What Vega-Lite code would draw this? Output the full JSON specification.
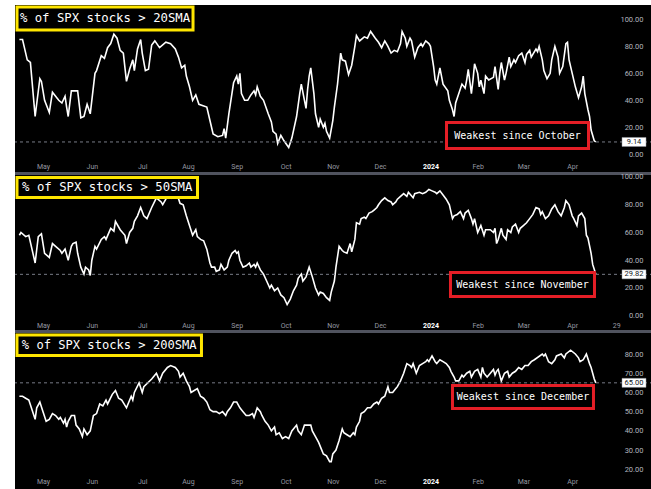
{
  "$schema": "https://vega.github.io/schema/vega-lite/v6.json",
  "background": "white",
  "padding": {"left": 13, "top": 5, "right": 0, "bottom": 0},
  "spacing": 0,
  "bounds": "flush",
  "config": {
    "view": {"fill": "black", "stroke": null},
    "axis": {"domain": false, "ticks": false, "grid": false, "labelFont": "Roboto", "labelColor": "#b2b5be", "labelOverlap": false, "labelFlush": false, "labelBound": false, "title": null}
  },
  "datasets": {
    "s20": [
      {"date":"2023-04-16","pct":85},{"date":"2023-04-18","pct":85},{"date":"2023-04-21","pct":70},{"date":"2023-04-23","pct":68},{"date":"2023-04-26","pct":28},{"date":"2023-04-29","pct":56},{"date":"2023-04-30","pct":54},
      {"date":"2023-05-02","pct":40},{"date":"2023-05-05","pct":31},{"date":"2023-05-07","pct":46},{"date":"2023-05-09","pct":43},{"date":"2023-05-11","pct":40},{"date":"2023-05-13","pct":38},{"date":"2023-05-15","pct":43},{"date":"2023-05-16","pct":35},{"date":"2023-05-17","pct":28},{"date":"2023-05-19","pct":47},{"date":"2023-05-23","pct":47},{"date":"2023-05-25","pct":27},{"date":"2023-05-27","pct":28},{"date":"2023-05-29","pct":37},{"date":"2023-05-31","pct":30},
      {"date":"2023-06-03","pct":60},{"date":"2023-06-04","pct":62},{"date":"2023-06-07","pct":73},{"date":"2023-06-09","pct":71},{"date":"2023-06-11","pct":79},{"date":"2023-06-13","pct":82},{"date":"2023-06-15","pct":89},{"date":"2023-06-17","pct":86},{"date":"2023-06-19","pct":77},{"date":"2023-06-21","pct":75},{"date":"2023-06-23","pct":54},{"date":"2023-06-25","pct":63},{"date":"2023-06-27","pct":70},{"date":"2023-06-28","pct":62},{"date":"2023-06-30","pct":78},
      {"date":"2023-07-02","pct":85},{"date":"2023-07-03","pct":75},{"date":"2023-07-05","pct":62},{"date":"2023-07-07","pct":63},{"date":"2023-07-09","pct":81},{"date":"2023-07-11","pct":84},{"date":"2023-07-14","pct":79},{"date":"2023-07-18","pct":83},{"date":"2023-07-21","pct":82},{"date":"2023-07-24","pct":78},{"date":"2023-07-26","pct":72},{"date":"2023-07-28","pct":64},{"date":"2023-07-30","pct":66},{"date":"2023-07-31","pct":58},
      {"date":"2023-08-02","pct":50},{"date":"2023-08-04","pct":40},{"date":"2023-08-06","pct":44},{"date":"2023-08-08","pct":37},{"date":"2023-08-13","pct":35},{"date":"2023-08-15","pct":25},{"date":"2023-08-17","pct":15},{"date":"2023-08-20","pct":13},{"date":"2023-08-23","pct":14},{"date":"2023-08-24","pct":19},{"date":"2023-08-25","pct":12},{"date":"2023-08-27","pct":30},{"date":"2023-08-30","pct":53},
      {"date":"2023-09-01","pct":58},{"date":"2023-09-02","pct":52},{"date":"2023-09-03","pct":60},{"date":"2023-09-04","pct":45},{"date":"2023-09-06","pct":40},{"date":"2023-09-08","pct":40},{"date":"2023-09-10","pct":44},{"date":"2023-09-12","pct":47},{"date":"2023-09-13","pct":44},{"date":"2023-09-14","pct":50},{"date":"2023-09-16","pct":43},{"date":"2023-09-18","pct":40},{"date":"2023-09-21","pct":30},{"date":"2023-09-23","pct":24},{"date":"2023-09-24","pct":17},{"date":"2023-09-26","pct":15},{"date":"2023-09-27","pct":8},{"date":"2023-09-29","pct":14},
      {"date":"2023-10-01","pct":10},{"date":"2023-10-04","pct":5},{"date":"2023-10-06","pct":12},{"date":"2023-10-09","pct":28},{"date":"2023-10-11","pct":45},{"date":"2023-10-12","pct":52},{"date":"2023-10-14","pct":40},{"date":"2023-10-15","pct":34},{"date":"2023-10-16","pct":48},{"date":"2023-10-17","pct":58},{"date":"2023-10-18","pct":64},{"date":"2023-10-20","pct":45},{"date":"2023-10-21","pct":30},{"date":"2023-10-23","pct":20},{"date":"2023-10-24","pct":26},{"date":"2023-10-26","pct":20},{"date":"2023-10-27","pct":23},{"date":"2023-10-28","pct":17},{"date":"2023-10-30","pct":12},
      {"date":"2023-11-01","pct":25},{"date":"2023-11-02","pct":35},{"date":"2023-11-04","pct":52},{"date":"2023-11-06","pct":75},{"date":"2023-11-07","pct":70},{"date":"2023-11-09","pct":69},{"date":"2023-11-11","pct":59},{"date":"2023-11-13","pct":66},{"date":"2023-11-15","pct":80},{"date":"2023-11-16","pct":88},{"date":"2023-11-18","pct":84},{"date":"2023-11-21","pct":87},{"date":"2023-11-23","pct":86},{"date":"2023-11-25","pct":91},{"date":"2023-11-28","pct":86},{"date":"2023-11-30","pct":83},
      {"date":"2023-12-02","pct":79},{"date":"2023-12-04","pct":84},{"date":"2023-12-06","pct":80},{"date":"2023-12-08","pct":75},{"date":"2023-12-10","pct":77},{"date":"2023-12-12","pct":76},{"date":"2023-12-14","pct":82},{"date":"2023-12-15","pct":91},{"date":"2023-12-17","pct":86},{"date":"2023-12-18","pct":80},{"date":"2023-12-20","pct":86},{"date":"2023-12-21","pct":84},{"date":"2023-12-23","pct":72},{"date":"2023-12-25","pct":79},{"date":"2023-12-27","pct":82},{"date":"2023-12-28","pct":80},{"date":"2023-12-30","pct":84},
      {"date":"2024-01-01","pct":82},{"date":"2024-01-02","pct":80},{"date":"2024-01-04","pct":65},{"date":"2024-01-05","pct":55},{"date":"2024-01-06","pct":52},{"date":"2024-01-08","pct":64},{"date":"2024-01-10","pct":52},{"date":"2024-01-13","pct":47},{"date":"2024-01-14","pct":40},{"date":"2024-01-16","pct":33},{"date":"2024-01-17","pct":28},{"date":"2024-01-18","pct":38},{"date":"2024-01-20","pct":45},{"date":"2024-01-22","pct":52},{"date":"2024-01-24","pct":49},{"date":"2024-01-25","pct":55},{"date":"2024-01-26","pct":63},{"date":"2024-01-28","pct":45},{"date":"2024-01-29","pct":55},{"date":"2024-01-30","pct":67},
      {"date":"2024-02-01","pct":60},{"date":"2024-02-02","pct":50},{"date":"2024-02-03","pct":55},{"date":"2024-02-05","pct":45},{"date":"2024-02-06","pct":58},{"date":"2024-02-08","pct":55},{"date":"2024-02-11","pct":57},{"date":"2024-02-12","pct":65},{"date":"2024-02-14","pct":48},{"date":"2024-02-15","pct":60},{"date":"2024-02-16","pct":68},{"date":"2024-02-18","pct":55},{"date":"2024-02-19","pct":60},{"date":"2024-02-21","pct":72},{"date":"2024-02-22","pct":65},{"date":"2024-02-24","pct":70},{"date":"2024-02-25","pct":68},{"date":"2024-02-27","pct":73},{"date":"2024-02-29","pct":75},
      {"date":"2024-03-02","pct":68},{"date":"2024-03-03","pct":74},{"date":"2024-03-05","pct":77},{"date":"2024-03-06","pct":72},{"date":"2024-03-07","pct":74},{"date":"2024-03-09","pct":78},{"date":"2024-03-10","pct":76},{"date":"2024-03-11","pct":80},{"date":"2024-03-13","pct":70},{"date":"2024-03-14","pct":62},{"date":"2024-03-16","pct":56},{"date":"2024-03-18","pct":60},{"date":"2024-03-19","pct":70},{"date":"2024-03-21","pct":80},{"date":"2024-03-23","pct":72},{"date":"2024-03-24","pct":60},{"date":"2024-03-26","pct":65},{"date":"2024-03-28","pct":82},{"date":"2024-03-29","pct":83},{"date":"2024-03-30","pct":70},
      {"date":"2024-04-01","pct":60},{"date":"2024-04-02","pct":55},{"date":"2024-04-03","pct":50},{"date":"2024-04-05","pct":42},{"date":"2024-04-07","pct":50},{"date":"2024-04-08","pct":58},{"date":"2024-04-09","pct":45},{"date":"2024-04-11","pct":33},{"date":"2024-04-12","pct":28},{"date":"2024-04-13","pct":18},{"date":"2024-04-15","pct":10},{"date":"2024-04-16","pct":9.14}
    ],
    "s50": [
      {"date":"2023-04-16","pct":58},{"date":"2023-04-17","pct":60},{"date":"2023-04-20","pct":57},{"date":"2023-04-22","pct":58},{"date":"2023-04-26","pct":38},{"date":"2023-04-28","pct":57},{"date":"2023-04-30","pct":59},
      {"date":"2023-05-02","pct":45},{"date":"2023-05-05","pct":42},{"date":"2023-05-07","pct":52},{"date":"2023-05-09","pct":50},{"date":"2023-05-12","pct":47},{"date":"2023-05-13","pct":45},{"date":"2023-05-15","pct":48},{"date":"2023-05-17","pct":40},{"date":"2023-05-19","pct":50},{"date":"2023-05-20","pct":52},{"date":"2023-05-22","pct":53},{"date":"2023-05-23","pct":45},{"date":"2023-05-25","pct":35},{"date":"2023-05-27","pct":30},{"date":"2023-05-28","pct":35},{"date":"2023-05-30","pct":33},{"date":"2023-05-31","pct":29},
      {"date":"2023-06-01","pct":40},{"date":"2023-06-03","pct":50},{"date":"2023-06-04","pct":48},{"date":"2023-06-07","pct":55},{"date":"2023-06-09","pct":57},{"date":"2023-06-10","pct":55},{"date":"2023-06-13","pct":63},{"date":"2023-06-15","pct":61},{"date":"2023-06-16","pct":68},{"date":"2023-06-19","pct":62},{"date":"2023-06-22","pct":58},{"date":"2023-06-23","pct":52},{"date":"2023-06-25","pct":60},{"date":"2023-06-27","pct":63},{"date":"2023-06-28","pct":68},{"date":"2023-06-30","pct":72},
      {"date":"2023-07-02","pct":78},{"date":"2023-07-04","pct":72},{"date":"2023-07-06","pct":70},{"date":"2023-07-09","pct":78},{"date":"2023-07-12","pct":85},{"date":"2023-07-15","pct":82},{"date":"2023-07-16","pct":80},{"date":"2023-07-19","pct":86},{"date":"2023-07-21","pct":90},{"date":"2023-07-22","pct":85},{"date":"2023-07-25","pct":88},{"date":"2023-07-27","pct":81},{"date":"2023-07-29","pct":80},{"date":"2023-07-31","pct":72},
      {"date":"2023-08-02","pct":65},{"date":"2023-08-04","pct":58},{"date":"2023-08-06","pct":62},{"date":"2023-08-07","pct":57},{"date":"2023-08-09","pct":55},{"date":"2023-08-11","pct":54},{"date":"2023-08-13","pct":48},{"date":"2023-08-15","pct":38},{"date":"2023-08-16","pct":35},{"date":"2023-08-18","pct":35},{"date":"2023-08-19","pct":32},{"date":"2023-08-21","pct":33},{"date":"2023-08-22","pct":37},{"date":"2023-08-24","pct":33},{"date":"2023-08-26","pct":35},{"date":"2023-08-27","pct":40},{"date":"2023-08-29","pct":45},{"date":"2023-08-31","pct":47},
      {"date":"2023-09-01","pct":45},{"date":"2023-09-02","pct":46},{"date":"2023-09-03","pct":40},{"date":"2023-09-05","pct":35},{"date":"2023-09-07","pct":36},{"date":"2023-09-09","pct":38},{"date":"2023-09-10","pct":35},{"date":"2023-09-12","pct":37},{"date":"2023-09-13","pct":35},{"date":"2023-09-14","pct":38},{"date":"2023-09-16","pct":33},{"date":"2023-09-18","pct":30},{"date":"2023-09-20","pct":25},{"date":"2023-09-22","pct":20},{"date":"2023-09-23","pct":22},{"date":"2023-09-25","pct":18},{"date":"2023-09-27","pct":20},{"date":"2023-09-29","pct":15},
      {"date":"2023-10-01","pct":13},{"date":"2023-10-03","pct":8},{"date":"2023-10-05","pct":12},{"date":"2023-10-07","pct":18},{"date":"2023-10-09","pct":22},{"date":"2023-10-10","pct":27},{"date":"2023-10-12","pct":30},{"date":"2023-10-13","pct":25},{"date":"2023-10-15","pct":28},{"date":"2023-10-17","pct":35},{"date":"2023-10-19","pct":28},{"date":"2023-10-21","pct":20},{"date":"2023-10-23","pct":15},{"date":"2023-10-24","pct":17},{"date":"2023-10-26","pct":16},{"date":"2023-10-28","pct":13},{"date":"2023-10-30","pct":11},{"date":"2023-10-31","pct":17},
      {"date":"2023-11-02","pct":25},{"date":"2023-11-03","pct":35},{"date":"2023-11-05","pct":50},{"date":"2023-11-07","pct":47},{"date":"2023-11-08","pct":46},{"date":"2023-11-10","pct":45},{"date":"2023-11-12","pct":52},{"date":"2023-11-13","pct":46},{"date":"2023-11-15","pct":55},{"date":"2023-11-16","pct":67},{"date":"2023-11-18","pct":66},{"date":"2023-11-19","pct":70},{"date":"2023-11-21","pct":71},{"date":"2023-11-22","pct":70},{"date":"2023-11-24","pct":74},{"date":"2023-11-26","pct":75},{"date":"2023-11-27","pct":76},{"date":"2023-11-29","pct":78},{"date":"2023-11-30","pct":80},
      {"date":"2023-12-02","pct":83},{"date":"2023-12-04","pct":85},{"date":"2023-12-06","pct":83},{"date":"2023-12-08","pct":82},{"date":"2023-12-09","pct":80},{"date":"2023-12-11","pct":82},{"date":"2023-12-12","pct":84},{"date":"2023-12-14","pct":86},{"date":"2023-12-16","pct":88},{"date":"2023-12-18","pct":86},{"date":"2023-12-19","pct":89},{"date":"2023-12-22","pct":85},{"date":"2023-12-23","pct":88},{"date":"2023-12-26","pct":89},{"date":"2023-12-28","pct":88},{"date":"2023-12-30","pct":89},
      {"date":"2024-01-01","pct":91},{"date":"2024-01-03","pct":90},{"date":"2024-01-05","pct":89},{"date":"2024-01-06","pct":88},{"date":"2024-01-08","pct":90},{"date":"2024-01-10","pct":87},{"date":"2024-01-12","pct":84},{"date":"2024-01-14","pct":80},{"date":"2024-01-16","pct":70},{"date":"2024-01-17","pct":72},{"date":"2024-01-19","pct":73},{"date":"2024-01-21","pct":75},{"date":"2024-01-23","pct":70},{"date":"2024-01-24","pct":74},{"date":"2024-01-26","pct":76},{"date":"2024-01-28","pct":70},{"date":"2024-01-29","pct":66},{"date":"2024-01-30","pct":70},
      {"date":"2024-02-01","pct":60},{"date":"2024-02-03","pct":65},{"date":"2024-02-05","pct":58},{"date":"2024-02-06","pct":62},{"date":"2024-02-09","pct":62},{"date":"2024-02-11","pct":60},{"date":"2024-02-12","pct":63},{"date":"2024-02-13","pct":52},{"date":"2024-02-14","pct":55},{"date":"2024-02-16","pct":63},{"date":"2024-02-17","pct":58},{"date":"2024-02-19","pct":55},{"date":"2024-02-20","pct":62},{"date":"2024-02-22","pct":60},{"date":"2024-02-23","pct":64},{"date":"2024-02-25","pct":66},{"date":"2024-02-27","pct":60},{"date":"2024-02-28","pct":63},
      {"date":"2024-03-01","pct":65},{"date":"2024-03-03","pct":67},{"date":"2024-03-05","pct":70},{"date":"2024-03-07","pct":73},{"date":"2024-03-09","pct":78},{"date":"2024-03-11","pct":77},{"date":"2024-03-12","pct":73},{"date":"2024-03-13","pct":75},{"date":"2024-03-15","pct":70},{"date":"2024-03-17","pct":72},{"date":"2024-03-19","pct":77},{"date":"2024-03-21","pct":80},{"date":"2024-03-23","pct":75},{"date":"2024-03-25","pct":72},{"date":"2024-03-27","pct":78},{"date":"2024-03-28","pct":83},{"date":"2024-03-30","pct":80},
      {"date":"2024-04-01","pct":72},{"date":"2024-04-02","pct":70},{"date":"2024-04-04","pct":65},{"date":"2024-04-05","pct":72},{"date":"2024-04-07","pct":74},{"date":"2024-04-09","pct":70},{"date":"2024-04-10","pct":58},{"date":"2024-04-11","pct":56},{"date":"2024-04-13","pct":45},{"date":"2024-04-14","pct":37},{"date":"2024-04-16","pct":29.82}
    ],
    "s200": [
      {"date":"2023-04-16","pct":58},{"date":"2023-04-18","pct":58},{"date":"2023-04-20","pct":57},{"date":"2023-04-22","pct":56},{"date":"2023-04-26","pct":46},{"date":"2023-04-27","pct":52},{"date":"2023-04-29","pct":55},
      {"date":"2023-05-01","pct":50},{"date":"2023-05-03","pct":45},{"date":"2023-05-05","pct":46},{"date":"2023-05-07","pct":49},{"date":"2023-05-09","pct":48},{"date":"2023-05-11","pct":46},{"date":"2023-05-12","pct":47},{"date":"2023-05-14","pct":44},{"date":"2023-05-15","pct":46},{"date":"2023-05-16","pct":42},{"date":"2023-05-17","pct":45},{"date":"2023-05-19","pct":48},{"date":"2023-05-21","pct":48},{"date":"2023-05-22","pct":43},{"date":"2023-05-24","pct":41},{"date":"2023-05-26","pct":37},{"date":"2023-05-27","pct":41},{"date":"2023-05-29","pct":38},{"date":"2023-05-31","pct":40},
      {"date":"2023-06-02","pct":48},{"date":"2023-06-04","pct":49},{"date":"2023-06-06","pct":54},{"date":"2023-06-08","pct":53},{"date":"2023-06-10","pct":56},{"date":"2023-06-11","pct":54},{"date":"2023-06-14","pct":59},{"date":"2023-06-16","pct":61},{"date":"2023-06-18","pct":57},{"date":"2023-06-20","pct":56},{"date":"2023-06-23","pct":52},{"date":"2023-06-26","pct":58},{"date":"2023-06-27","pct":56},{"date":"2023-06-28","pct":60},
      {"date":"2023-07-01","pct":65},{"date":"2023-07-03","pct":60},{"date":"2023-07-04","pct":63},{"date":"2023-07-09","pct":67},{"date":"2023-07-12","pct":70},{"date":"2023-07-14","pct":66},{"date":"2023-07-16","pct":70},{"date":"2023-07-19","pct":73},{"date":"2023-07-21","pct":74},{"date":"2023-07-24","pct":73},{"date":"2023-07-26","pct":71},{"date":"2023-07-27","pct":68},{"date":"2023-07-29","pct":70},{"date":"2023-07-31","pct":66},
      {"date":"2023-08-02","pct":63},{"date":"2023-08-03","pct":60},{"date":"2023-08-05","pct":61},{"date":"2023-08-07","pct":62},{"date":"2023-08-09","pct":58},{"date":"2023-08-11","pct":57},{"date":"2023-08-13","pct":55},{"date":"2023-08-15","pct":51},{"date":"2023-08-17","pct":50},{"date":"2023-08-19","pct":50},{"date":"2023-08-21","pct":49},{"date":"2023-08-23","pct":50},{"date":"2023-08-25","pct":48},{"date":"2023-08-26","pct":50},{"date":"2023-08-28","pct":52},{"date":"2023-08-30","pct":55},
      {"date":"2023-09-01","pct":55},{"date":"2023-09-03","pct":52},{"date":"2023-09-05","pct":50},{"date":"2023-09-07","pct":48},{"date":"2023-09-09","pct":48},{"date":"2023-09-11","pct":49},{"date":"2023-09-12","pct":47},{"date":"2023-09-14","pct":52},{"date":"2023-09-16","pct":50},{"date":"2023-09-17","pct":48},{"date":"2023-09-19","pct":45},{"date":"2023-09-21","pct":43},{"date":"2023-09-23","pct":40},{"date":"2023-09-25","pct":42},{"date":"2023-09-26","pct":38},{"date":"2023-09-28","pct":39},{"date":"2023-09-30","pct":36},
      {"date":"2023-10-02","pct":37},{"date":"2023-10-04","pct":36},{"date":"2023-10-06","pct":40},{"date":"2023-10-09","pct":43},{"date":"2023-10-10","pct":40},{"date":"2023-10-12","pct":38},{"date":"2023-10-14","pct":43},{"date":"2023-10-18","pct":43},{"date":"2023-10-19","pct":40},{"date":"2023-10-21","pct":37},{"date":"2023-10-23","pct":34},{"date":"2023-10-25","pct":30},{"date":"2023-10-26","pct":28},{"date":"2023-10-28","pct":27},{"date":"2023-10-30","pct":24},{"date":"2023-10-31","pct":24},
      {"date":"2023-11-01","pct":28},{"date":"2023-11-03","pct":30},{"date":"2023-11-05","pct":35},{"date":"2023-11-07","pct":41},{"date":"2023-11-08","pct":39},{"date":"2023-11-10","pct":38},{"date":"2023-11-12","pct":37},{"date":"2023-11-14","pct":39},{"date":"2023-11-15","pct":38},{"date":"2023-11-16","pct":42},{"date":"2023-11-18","pct":45},{"date":"2023-11-19","pct":49},{"date":"2023-11-21","pct":50},{"date":"2023-11-23","pct":52},{"date":"2023-11-25","pct":52},{"date":"2023-11-27","pct":54},{"date":"2023-11-29","pct":55},{"date":"2023-11-30","pct":54},
      {"date":"2023-12-02","pct":57},{"date":"2023-12-04","pct":58},{"date":"2023-12-06","pct":63},{"date":"2023-12-07","pct":60},{"date":"2023-12-09","pct":60},{"date":"2023-12-11","pct":62},{"date":"2023-12-12","pct":63},{"date":"2023-12-14","pct":66},{"date":"2023-12-16","pct":70},{"date":"2023-12-18","pct":75},{"date":"2023-12-20","pct":74},{"date":"2023-12-21","pct":73},{"date":"2023-12-22","pct":75},{"date":"2023-12-24","pct":70},{"date":"2023-12-26","pct":74},{"date":"2023-12-28","pct":75},{"date":"2023-12-30","pct":76},{"date":"2023-12-31","pct":77},
      {"date":"2024-01-01","pct":76},{"date":"2024-01-03","pct":79},{"date":"2024-01-05","pct":76},{"date":"2024-01-06","pct":75},{"date":"2024-01-08","pct":77},{"date":"2024-01-10","pct":76},{"date":"2024-01-12","pct":75},{"date":"2024-01-14","pct":73},{"date":"2024-01-15","pct":71},{"date":"2024-01-17","pct":68},{"date":"2024-01-18","pct":66},{"date":"2024-01-20","pct":66},{"date":"2024-01-22","pct":69},{"date":"2024-01-23","pct":68},{"date":"2024-01-25","pct":70},{"date":"2024-01-27","pct":71},{"date":"2024-01-28","pct":68},{"date":"2024-01-30","pct":71},
      {"date":"2024-02-01","pct":72},{"date":"2024-02-03","pct":68},{"date":"2024-02-04","pct":73},{"date":"2024-02-05","pct":70},{"date":"2024-02-07","pct":68},{"date":"2024-02-09","pct":70},{"date":"2024-02-11","pct":72},{"date":"2024-02-12","pct":69},{"date":"2024-02-13","pct":71},{"date":"2024-02-14","pct":72},{"date":"2024-02-16","pct":66},{"date":"2024-02-18","pct":70},{"date":"2024-02-20","pct":71},{"date":"2024-02-21","pct":68},{"date":"2024-02-23","pct":70},{"date":"2024-02-25","pct":71},{"date":"2024-02-27","pct":73},{"date":"2024-02-29","pct":72},
      {"date":"2024-03-02","pct":74},{"date":"2024-03-04","pct":74},{"date":"2024-03-06","pct":76},{"date":"2024-03-08","pct":77},{"date":"2024-03-13","pct":80},{"date":"2024-03-14","pct":79},{"date":"2024-03-15","pct":80},{"date":"2024-03-17","pct":76},{"date":"2024-03-19","pct":75},{"date":"2024-03-21","pct":77},{"date":"2024-03-22","pct":79},{"date":"2024-03-25","pct":80},{"date":"2024-03-27","pct":78},{"date":"2024-03-28","pct":80},{"date":"2024-03-31","pct":82},
      {"date":"2024-04-03","pct":80},{"date":"2024-04-05","pct":78},{"date":"2024-04-06","pct":76},{"date":"2024-04-08","pct":77},{"date":"2024-04-10","pct":80},{"date":"2024-04-12","pct":75},{"date":"2024-04-13","pct":73},{"date":"2024-04-14","pct":70},{"date":"2024-04-15","pct":67},{"date":"2024-04-16","pct":65}
    ]
  },
  "vconcat": [
    {
      "width": 638, "height": 170,
      "data": {"name": "s20"},
      "resolve": {"axis": {"y": "independent"}},
      "layer": [
        {"mark": {"type": "line", "stroke": "white", "strokeWidth": 1.6},
         "encoding": {
           "x": {"field": "date", "type": "temporal",
                 "scale": {"domain": [{"year": 2023, "month": 4, "date": 13, "hours": 5, "minutes": 16}, {"year": 2024, "month": 5, "date": 22, "hours": 7, "minutes": 12}], "nice": false},
                 "axis": {"orient": "bottom", "offset": -15, "labelPadding": 2, "labelFontSize": 7, "title": null, "labelOverlap": false,
                          "values": [{"year": 2023, "month": 5, "date": 1}, {"year": 2023, "month": 6, "date": 1}, {"year": 2023, "month": 7, "date": 3}, {"year": 2023, "month": 8, "date": 1}, {"year": 2023, "month": 9, "date": 1}, {"year": 2023, "month": 10, "date": 2}, {"year": 2023, "month": 11, "date": 1}, {"year": 2023, "month": 12, "date": 1}, {"year": 2024, "month": 1, "date": 2}, {"year": 2024, "month": 2, "date": 1}, {"year": 2024, "month": 3, "date": 1}, {"year": 2024, "month": 4, "date": 1}],
                          "labelExpr": "month(datum.value) == 0 ? '2024' : (date(datum.value) == 29 ? '29' : timeFormat(datum.value, '%b'))",
                          "labelColor": {"condition": {"test": "month(datum.value) == 0", "value": "#ffffff"}, "value": "#9598a1"},
                          "labelFontWeight": {"condition": {"test": "month(datum.value) == 0", "value": "bold"}, "value": "normal"}}},
           "y": {"field": "pct", "type": "quantitative",
                 "scale": {"domain": [-15.33, 110.6], "nice": false, "zero": false},
                 "axis": {"orient": "right", "offset": -12, "labelAlign": "right", "labelPadding": 2, "labelFontSize": 7.5, "title": null, "values": [0, 40, 80], "format": ".2f"}}
         }},
        {"transform": [{"joinaggregate": [{"op": "max", "field": "date", "as": "last"}]}, {"filter": "time(datum.date) == time(datum.last)"}],
         "mark": {"type": "rule", "stroke": "#787b86", "strokeDash": [3, 3], "strokeWidth": 1},
         "encoding": {"y": {"field": "pct", "type": "quantitative",
                 "axis": {"orient": "right", "offset": -12, "labelAlign": "right", "labelPadding": 2, "labelFontSize": 7.5, "title": null, "values": [20, 60, 100], "format": ".2f"}}}},
        {"data": {"values": [{}]}, "mark": {"type": "rule", "stroke": "#50535e", "strokeWidth": 3},
         "encoding": {"y": {"datum": -14.22, "type": "quantitative", "axis": null}}},
        {"data": {"values": [{}]}, "mark": {"type": "point", "clip": true, "shape": "M-1,-0.1307L1,-0.1307L1,0.1307L-1,0.1307Z", "size": 30976, "filled": true, "fill": "black", "stroke": "#ffe600", "strokeWidth": 3, "opacity": 1},
         "encoding": {"x": {"datum": {"year": 2023, "month": 6, "date": 9, "hours": 9}, "type": "temporal"}, "y": {"datum": 100.6, "type": "quantitative", "axis": null}}},
        {"data": {"values": [{}]}, "mark": {"type": "text", "text": "% of SPX stocks > 20SMA", "font": "DejaVu Sans Mono", "fontSize": 12.3, "fill": "white", "align": "center", "baseline": "middle"},
         "encoding": {"x": {"datum": {"year": 2023, "month": 6, "date": 9, "hours": 9}, "type": "temporal"}, "y": {"datum": 100.6, "type": "quantitative", "axis": null}}},
        {"data": {"values": [{}]}, "mark": {"type": "point", "shape": "M-1,-0.183L1,-0.183L1,0.183L-1,0.183Z", "size": 20164, "filled": true, "fill": "black", "stroke": "#e41e26", "strokeWidth": 3, "opacity": 1},
         "encoding": {"x": {"datum": {"year": 2024, "month": 2, "date": 26, "hours": 6, "minutes": 30}, "type": "temporal"}, "y": {"datum": 13.93, "type": "quantitative", "axis": null}}},
        {"data": {"values": [{}]}, "mark": {"type": "text", "text": "Weakest since October", "font": "DejaVu Sans Mono", "fontSize": 10, "fill": "white", "align": "center", "baseline": "middle"},
         "encoding": {"x": {"datum": {"year": 2024, "month": 2, "date": 26, "hours": 6, "minutes": 30}, "type": "temporal"}, "y": {"datum": 13.93, "type": "quantitative", "axis": null}}},
        {"transform": [{"joinaggregate": [{"op": "max", "field": "date", "as": "last"}]}, {"filter": "time(datum.date) == time(datum.last)"}],
         "mark": {"type": "point", "shape": "M-1,-0.375L1,-0.375L1,0.375L-1,0.375Z", "size": 576, "filled": true, "fill": "white", "stroke": "#9598a1", "strokeWidth": 0.5, "opacity": 1},
         "encoding": {"x": {"datum": {"year": 2024, "month": 5, "date": 10, "hours": 6}, "type": "temporal"}, "y": {"field": "pct", "type": "quantitative", "axis": null}}},
        {"transform": [{"joinaggregate": [{"op": "max", "field": "date", "as": "last"}]}, {"filter": "time(datum.date) == time(datum.last)"}],
         "mark": {"type": "text", "font": "Roboto", "fontSize": 7.5, "fill": "#131722", "align": "center", "baseline": "middle"},
         "encoding": {"x": {"datum": {"year": 2024, "month": 5, "date": 10, "hours": 6}, "type": "temporal"}, "y": {"field": "pct", "type": "quantitative", "axis": null}, "text": {"field": "pct", "type": "quantitative", "format": ".2f"}}}
      ]
    },
    {
      "width": 638, "height": 158,
      "data": {"name": "s50"},
      "resolve": {"axis": {"y": "independent"}},
      "layer": [
        {"mark": {"type": "line", "stroke": "white", "strokeWidth": 1.6},
         "encoding": {
           "x": {"field": "date", "type": "temporal",
                 "scale": {"domain": [{"year": 2023, "month": 4, "date": 13, "hours": 5, "minutes": 16}, {"year": 2024, "month": 5, "date": 22, "hours": 7, "minutes": 12}], "nice": false},
                 "axis": {"orient": "bottom", "offset": -14, "labelPadding": 2, "labelFontSize": 7, "title": null, "labelOverlap": false,
                          "values": [{"year": 2023, "month": 5, "date": 1}, {"year": 2023, "month": 6, "date": 1}, {"year": 2023, "month": 7, "date": 3}, {"year": 2023, "month": 8, "date": 1}, {"year": 2023, "month": 9, "date": 1}, {"year": 2023, "month": 10, "date": 2}, {"year": 2023, "month": 11, "date": 1}, {"year": 2023, "month": 12, "date": 1}, {"year": 2024, "month": 1, "date": 2}, {"year": 2024, "month": 2, "date": 1}, {"year": 2024, "month": 3, "date": 1}, {"year": 2024, "month": 4, "date": 1}, {"year": 2024, "month": 4, "date": 29}],
                          "labelExpr": "month(datum.value) == 0 ? '2024' : (date(datum.value) == 29 ? '29' : timeFormat(datum.value, '%b'))",
                          "labelColor": {"condition": {"test": "month(datum.value) == 0", "value": "#ffffff"}, "value": "#9598a1"},
                          "labelFontWeight": {"condition": {"test": "month(datum.value) == 0", "value": "bold"}, "value": "normal"}}},
           "y": {"field": "pct", "type": "quantitative",
                 "scale": {"domain": [-12.47, 101.44], "nice": false, "zero": false},
                 "axis": {"orient": "right", "offset": -12, "labelAlign": "right", "labelPadding": 2, "labelFontSize": 7.5, "title": null, "values": [0, 40, 80], "format": ".2f"}}
         }},
        {"transform": [{"joinaggregate": [{"op": "max", "field": "date", "as": "last"}]}, {"filter": "time(datum.date) == time(datum.last)"}],
         "mark": {"type": "rule", "stroke": "#787b86", "strokeDash": [3, 3], "strokeWidth": 1},
         "encoding": {"y": {"field": "pct", "type": "quantitative",
                 "axis": {"orient": "right", "offset": -12, "labelAlign": "right", "labelPadding": 2, "labelFontSize": 7.5, "title": null, "values": [20, 60, 100], "format": ".2f"}}}},
        {"data": {"values": [{}]}, "mark": {"type": "rule", "stroke": "#50535e", "strokeWidth": 3},
         "encoding": {"y": {"datum": -11.39, "type": "quantitative", "axis": null}}},
        {"data": {"values": [{}]}, "mark": {"type": "point", "clip": true, "shape": "M-1,-0.1108L1,-0.1108L1,0.1108L-1,0.1108Z", "size": 32580, "filled": true, "fill": "black", "stroke": "#ffe600", "strokeWidth": 3, "opacity": 1},
         "encoding": {"x": {"datum": {"year": 2023, "month": 6, "date": 10, "hours": 19}, "type": "temporal"}, "y": {"datum": 92.43, "type": "quantitative", "axis": null}}},
        {"data": {"values": [{}]}, "mark": {"type": "text", "text": "% of SPX stocks > 50SMA", "font": "DejaVu Sans Mono", "fontSize": 12.3, "fill": "white", "align": "center", "baseline": "middle"},
         "encoding": {"x": {"datum": {"year": 2023, "month": 6, "date": 10, "hours": 19}, "type": "temporal"}, "y": {"datum": 92.43, "type": "quantitative", "axis": null}}},
        {"data": {"values": [{}]}, "mark": {"type": "point", "shape": "M-1,-0.1667L1,-0.1667L1,0.1667L-1,0.1667Z", "size": 20736, "filled": true, "fill": "black", "stroke": "#e41e26", "strokeWidth": 3, "opacity": 1},
         "encoding": {"x": {"datum": {"year": 2024, "month": 2, "date": 29, "hours": 10, "minutes": 30}, "type": "temporal"}, "y": {"datum": 22.49, "type": "quantitative", "axis": null}}},
        {"data": {"values": [{}]}, "mark": {"type": "text", "text": "Weakest since November", "font": "DejaVu Sans Mono", "fontSize": 10, "fill": "white", "align": "center", "baseline": "middle"},
         "encoding": {"x": {"datum": {"year": 2024, "month": 2, "date": 29, "hours": 10, "minutes": 30}, "type": "temporal"}, "y": {"datum": 22.49, "type": "quantitative", "axis": null}}},
        {"transform": [{"joinaggregate": [{"op": "max", "field": "date", "as": "last"}]}, {"filter": "time(datum.date) == time(datum.last)"}],
         "mark": {"type": "point", "shape": "M-1,-0.375L1,-0.375L1,0.375L-1,0.375Z", "size": 576, "filled": true, "fill": "white", "stroke": "#9598a1", "strokeWidth": 0.5, "opacity": 1},
         "encoding": {"x": {"datum": {"year": 2024, "month": 5, "date": 10, "hours": 6}, "type": "temporal"}, "y": {"field": "pct", "type": "quantitative", "axis": null}}},
        {"transform": [{"joinaggregate": [{"op": "max", "field": "date", "as": "last"}]}, {"filter": "time(datum.date) == time(datum.last)"}],
         "mark": {"type": "text", "font": "Roboto", "fontSize": 7.5, "fill": "#131722", "align": "center", "baseline": "middle"},
         "encoding": {"x": {"datum": {"year": 2024, "month": 5, "date": 10, "hours": 6}, "type": "temporal"}, "y": {"field": "pct", "type": "quantitative", "axis": null}, "text": {"field": "pct", "type": "quantitative", "format": ".2f"}}}
      ]
    },
    {
      "width": 638, "height": 156,
      "data": {"name": "s200"},
      "resolve": {"axis": {"y": "independent"}},
      "layer": [
        {"mark": {"type": "line", "stroke": "white", "strokeWidth": 1.6},
         "encoding": {
           "x": {"field": "date", "type": "temporal",
                 "scale": {"domain": [{"year": 2023, "month": 4, "date": 13, "hours": 5, "minutes": 16}, {"year": 2024, "month": 5, "date": 22, "hours": 7, "minutes": 12}], "nice": false},
                 "axis": {"orient": "bottom", "offset": -14, "labelPadding": 2, "labelFontSize": 7, "title": null, "labelOverlap": false,
                          "values": [{"year": 2023, "month": 5, "date": 1}, {"year": 2023, "month": 6, "date": 1}, {"year": 2023, "month": 7, "date": 3}, {"year": 2023, "month": 8, "date": 1}, {"year": 2023, "month": 9, "date": 1}, {"year": 2023, "month": 10, "date": 2}, {"year": 2023, "month": 11, "date": 1}, {"year": 2023, "month": 12, "date": 1}, {"year": 2024, "month": 1, "date": 2}, {"year": 2024, "month": 2, "date": 1}, {"year": 2024, "month": 3, "date": 1}, {"year": 2024, "month": 4, "date": 1}],
                          "labelExpr": "month(datum.value) == 0 ? '2024' : (date(datum.value) == 29 ? '29' : timeFormat(datum.value, '%b'))",
                          "labelColor": {"condition": {"test": "month(datum.value) == 0", "value": "#ffffff"}, "value": "#9598a1"},
                          "labelFontWeight": {"condition": {"test": "month(datum.value) == 0", "value": "bold"}, "value": "normal"}}},
           "y": {"field": "pct", "type": "quantitative",
                 "scale": {"domain": [9.75, 90.93], "nice": false, "zero": false},
                 "axis": {"orient": "right", "offset": -12, "labelAlign": "right", "labelPadding": 2, "labelFontSize": 7.5, "title": null, "values": [20, 40, 60, 80], "format": ".2f"}}
         }},
        {"transform": [{"joinaggregate": [{"op": "max", "field": "date", "as": "last"}]}, {"filter": "time(datum.date) == time(datum.last)"}],
         "mark": {"type": "rule", "stroke": "#787b86", "strokeDash": [3, 3], "strokeWidth": 1},
         "encoding": {"y": {"field": "pct", "type": "quantitative",
                 "axis": {"orient": "right", "offset": -12, "labelAlign": "right", "labelPadding": 2, "labelFontSize": 7.5, "title": null, "values": [30, 50, 70], "format": ".2f"}}}},
        {"data": {"values": [{}]}, "mark": {"type": "point", "clip": true, "shape": "M-1,-0.1111L1,-0.1111L1,0.1111L-1,0.1111Z", "size": 34040, "filled": true, "fill": "black", "stroke": "#ffe600", "strokeWidth": 3, "opacity": 1},
         "encoding": {"x": {"datum": {"year": 2023, "month": 6, "date": 12, "hours": 1}, "type": "temporal"}, "y": {"datum": 84.56, "type": "quantitative", "axis": null}}},
        {"data": {"values": [{}]}, "mark": {"type": "text", "text": "% of SPX stocks > 200SMA", "font": "DejaVu Sans Mono", "fontSize": 12.1, "fill": "white", "align": "center", "baseline": "middle"},
         "encoding": {"x": {"datum": {"year": 2023, "month": 6, "date": 12, "hours": 1}, "type": "temporal"}, "y": {"datum": 84.56, "type": "quantitative", "axis": null}}},
        {"data": {"values": [{}]}, "mark": {"type": "point", "shape": "M-1,-0.163L1,-0.163L1,0.163L-1,0.163Z", "size": 19881, "filled": true, "fill": "black", "stroke": "#e41e26", "strokeWidth": 3, "opacity": 1},
         "encoding": {"x": {"datum": {"year": 2024, "month": 2, "date": 29, "hours": 18}, "type": "temporal"}, "y": {"datum": 57.63, "type": "quantitative", "axis": null}}},
        {"data": {"values": [{}]}, "mark": {"type": "text", "text": "Weakest since December", "font": "DejaVu Sans Mono", "fontSize": 10, "fill": "white", "align": "center", "baseline": "middle"},
         "encoding": {"x": {"datum": {"year": 2024, "month": 2, "date": 29, "hours": 18}, "type": "temporal"}, "y": {"datum": 57.63, "type": "quantitative", "axis": null}}},
        {"transform": [{"joinaggregate": [{"op": "max", "field": "date", "as": "last"}]}, {"filter": "time(datum.date) == time(datum.last)"}],
         "mark": {"type": "point", "shape": "M-1,-0.375L1,-0.375L1,0.375L-1,0.375Z", "size": 576, "filled": true, "fill": "white", "stroke": "#9598a1", "strokeWidth": 0.5, "opacity": 1},
         "encoding": {"x": {"datum": {"year": 2024, "month": 5, "date": 10, "hours": 6}, "type": "temporal"}, "y": {"field": "pct", "type": "quantitative", "axis": null}}},
        {"transform": [{"joinaggregate": [{"op": "max", "field": "date", "as": "last"}]}, {"filter": "time(datum.date) == time(datum.last)"}],
         "mark": {"type": "text", "font": "Roboto", "fontSize": 7.5, "fill": "#131722", "align": "center", "baseline": "middle"},
         "encoding": {"x": {"datum": {"year": 2024, "month": 5, "date": 10, "hours": 6}, "type": "temporal"}, "y": {"field": "pct", "type": "quantitative", "axis": null}, "text": {"field": "pct", "type": "quantitative", "format": ".2f"}}}
      ]
    }
  ]
}
